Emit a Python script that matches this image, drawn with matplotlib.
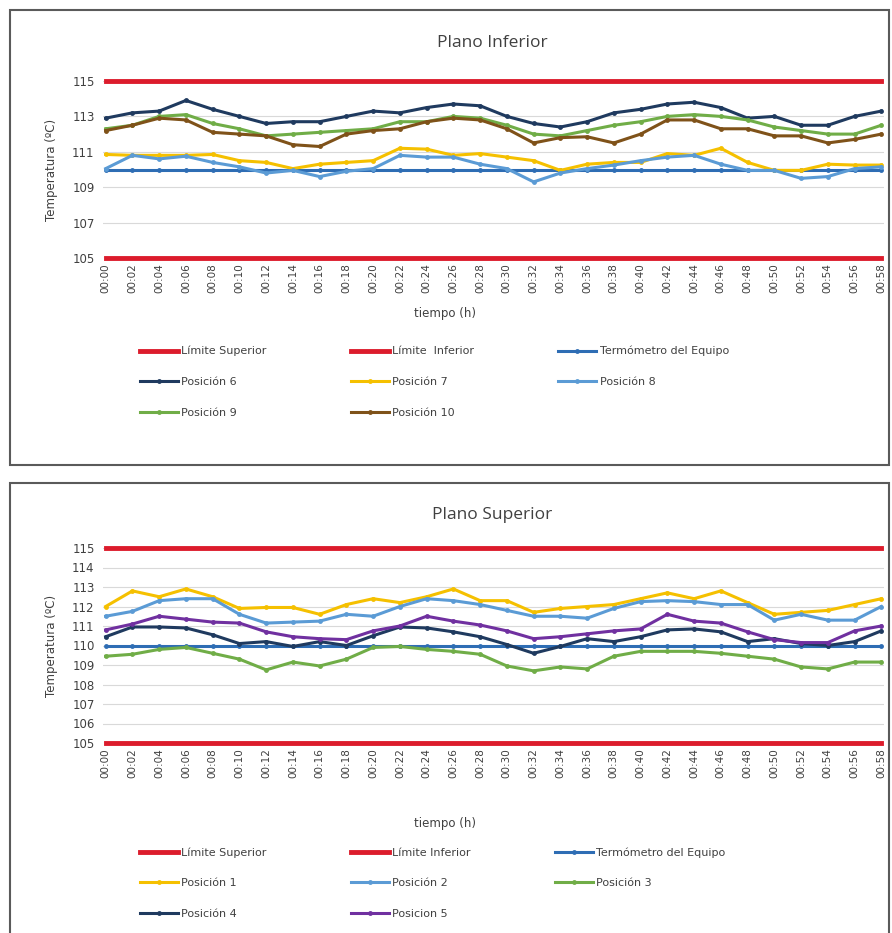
import numpy as np
import matplotlib.pyplot as plt
from matplotlib.patches import Rectangle

# time axis (every 2 minutes)
tiempo = ['00:00', '00:02', '00:04', '00:06', '00:08', '00:10', '00:12', '00:14', '00:16', '00:18',
          '00:20', '00:22', '00:24', '00:26', '00:28', '00:30', '00:32', '00:34', '00:36', '00:38',
          '00:40', '00:42', '00:44', '00:46', '00:48', '00:50', '00:52', '00:54', '00:56', '00:58']

lim_sup = [115, 115, 115, 115, 115, 115, 115, 115, 115, 115, 115, 115, 115, 115, 115,
           115, 115, 115, 115, 115, 115, 115, 115, 115, 115, 115, 115, 115, 115, 115]
lim_inf = [105, 105, 105, 105, 105, 105, 105, 105, 105, 105, 105, 105, 105, 105, 105,
           105, 105, 105, 105, 105, 105, 105, 105, 105, 105, 105, 105, 105, 105, 105]
termometro = [110.0, 110.0, 110.0, 110.0, 110.0, 110.0, 110.0, 110.0, 110.0, 110.0,
              110.0, 110.0, 110.0, 110.0, 110.0, 110.0, 110.0, 110.0, 110.0, 110.0,
              110.0, 110.0, 110.0, 110.0, 110.0, 110.0, 110.0, 110.0, 110.0, 110.0]

# Plano Inferior
pos6 = [112.9, 113.2, 113.3, 113.9, 113.4, 113.0, 112.6, 112.7, 112.7, 113.0,
        113.3, 113.2, 113.5, 113.7, 113.6, 113.0, 112.6, 112.4, 112.7, 113.2,
        113.4, 113.7, 113.8, 113.5, 112.9, 113.0, 112.5, 112.5, 113.0, 113.3]
pos7 = [110.85, 110.8, 110.8, 110.8, 110.85, 110.5, 110.4, 110.05, 110.3, 110.4,
        110.5, 111.2, 111.15, 110.8, 110.9, 110.7, 110.5, 109.95, 110.3, 110.4,
        110.4, 110.9, 110.8, 111.2, 110.4, 109.95, 109.95, 110.3, 110.25, 110.25]
pos8 = [110.05, 110.8, 110.6, 110.75, 110.4, 110.15, 109.8, 109.95, 109.6, 109.9,
        110.05, 110.8, 110.7, 110.7, 110.3, 110.05, 109.3, 109.8, 110.05, 110.25,
        110.5, 110.7, 110.8, 110.3, 109.95, 109.95, 109.5, 109.6, 110.05, 110.15]
pos9 = [112.3, 112.5, 113.0, 113.1, 112.6, 112.3, 111.9, 112.0, 112.1, 112.2,
        112.3, 112.7, 112.7, 113.0, 112.9, 112.5, 112.0, 111.9, 112.2, 112.5,
        112.7, 113.0, 113.1, 113.0, 112.8, 112.4, 112.2, 112.0, 112.0, 112.5]
pos10 = [112.2, 112.5, 112.9, 112.8, 112.1, 112.0, 111.9, 111.4, 111.3, 112.0,
         112.2, 112.3, 112.7, 112.9, 112.8, 112.3, 111.5, 111.8, 111.85, 111.5,
         112.0, 112.8, 112.8, 112.3, 112.3, 111.9, 111.9, 111.5, 111.7, 112.0]

# Plano Superior
pos1 = [112.0, 112.8, 112.5, 112.9, 112.5, 111.9, 111.95, 111.95, 111.6, 112.1,
        112.4, 112.2, 112.5, 112.9, 112.3, 112.3, 111.7, 111.9, 112.0, 112.1,
        112.4, 112.7, 112.4, 112.8, 112.2, 111.6, 111.7, 111.8, 112.1, 112.4]
pos2 = [111.5, 111.75, 112.3, 112.4, 112.4, 111.6, 111.15, 111.2, 111.25, 111.6,
        111.5, 112.0, 112.4, 112.3, 112.1, 111.8, 111.5, 111.5, 111.4, 111.9,
        112.25, 112.3, 112.25, 112.1, 112.1, 111.3, 111.6, 111.3, 111.3, 112.0]
pos3 = [109.45, 109.55, 109.8, 109.9, 109.6, 109.3, 108.75, 109.15, 108.95, 109.3,
        109.9, 109.95, 109.8, 109.7, 109.55, 108.95, 108.7, 108.9, 108.8, 109.45,
        109.7, 109.7, 109.7, 109.6, 109.45, 109.3, 108.9, 108.8, 109.15, 109.15]
pos4 = [110.45, 110.95, 110.95, 110.9, 110.55, 110.1, 110.2, 109.95, 110.2, 110.0,
        110.5, 110.95, 110.9, 110.7, 110.45, 110.05, 109.6, 109.95, 110.35, 110.2,
        110.45, 110.8, 110.85, 110.7, 110.2, 110.35, 110.1, 110.0, 110.2, 110.75]
pos5 = [110.8, 111.1, 111.5, 111.35, 111.2, 111.15, 110.7, 110.45, 110.35, 110.3,
        110.75, 111.0, 111.5, 111.25, 111.05, 110.75, 110.35, 110.45, 110.6, 110.75,
        110.85, 111.6, 111.25, 111.15, 110.7, 110.3, 110.15, 110.15, 110.75, 111.0]

RED = '#DC1C2C'
TERM = '#2E6DB4'
NAVY = '#1F3A5F'
YELLOW = '#F5C000'
LBLUE = '#5B9BD5'
GREEN = '#70AD47'
BROWN = '#7F5219'
PURPLE = '#7030A0'

narrow = ['Liberation Sans Narrow', 'DejaVu Sans']
plt.rcParams['font.family'] = narrow

W, H = 892, 933
fig = plt.figure(figsize=(W / 100, H / 100), dpi=100)


def fx(px):
    return px / W


def fy(py):
    return 1 - py / H


def panel(top_px, bottom_px, title, title_y, series, yticks, xlabel_y, legend_y, box):
    ax = fig.add_axes([fx(103), fy(bottom_px), fx(884) - fx(103), fy(top_px) - fy(bottom_px)])
    x = np.arange(len(tiempo))
    handles = {}
    for name, vals, color, lw, mk in series:
        clip = not name.startswith('Límite')
        h, = ax.plot(x, vals, color=color, lw=lw, marker=mk, ms=3.5,
                     markeredgewidth=0, clip_on=clip, zorder=3 if clip else 4)
        handles[name] = h
    ax.set_xlim(-0.1, len(tiempo) - 0.9)
    ax.set_ylim(105, 115)
    ax.set_yticks(yticks)
    ax.set_xticks(x)
    ax.set_xticklabels(tiempo, rotation=90, fontsize=7.5, color='#404040')
    ax.tick_params(axis='y', labelsize=8.5, colors='#404040', length=0, pad=6)
    ax.tick_params(axis='x', length=0, pad=4)
    ax.grid(axis='y', color='#D9D9D9', lw=0.8)
    ax.set_axisbelow(True)
    for s in ax.spines.values():
        s.set_visible(False)
    ax.set_ylabel('Temperatura (ºC)', fontsize=8.5, color='#404040', labelpad=10)
    fig.text(fx(492), fy(title_y), title, ha='center', va='center', fontsize=12.5,
             color='#404040', family=['Open Sans', 'DejaVu Sans'])
    fig.text(fx(445), fy(xlabel_y), 'tiempo (h)', ha='center', va='center', fontsize=8.5,
             color='#404040')
    # legend: row-major like the original
    order = [series[i][0] for i in box]
    leg = fig.legend([handles[n] for n in order], order, ncol=3, loc='upper left',
                     bbox_to_anchor=(fx(130), fy(legend_y)), frameon=False, fontsize=8,
                     handlelength=3.4, columnspacing=7.6, labelspacing=1.85,
                     handletextpad=0.3)
    for t in leg.get_texts():
        t.set_color('#404040')
    return ax


top_series = [
    ('Límite Superior', lim_sup, RED, 3.5, None),
    ('Límite  Inferior', lim_inf, RED, 3.5, None),
    ('Termómetro del Equipo', termometro, TERM, 2.2, 'o'),
    ('Posición 6', pos6, NAVY, 2.2, 'o'),
    ('Posición 7', pos7, YELLOW, 2.2, 'o'),
    ('Posición 8', pos8, LBLUE, 2.2, 'o'),
    ('Posición 9', pos9, GREEN, 2.2, 'o'),
    ('Posición 10', pos10, BROWN, 2.2, 'o'),
]
bot_series = [
    ('Límite Superior', lim_sup, RED, 3.5, None),
    ('Límite Inferior', lim_inf, RED, 3.5, None),
    ('Termómetro del Equipo', termometro, TERM, 2.2, 'o'),
    ('Posición 1', pos1, YELLOW, 2.2, 'o'),
    ('Posición 2', pos2, LBLUE, 2.2, 'o'),
    ('Posición 3', pos3, GREEN, 2.2, 'o'),
    ('Posición 4', pos4, NAVY, 2.2, 'o'),
    ('Posicion 5', pos5, PURPLE, 2.2, 'o'),
]
# column-major order giving rows: (0,1,2), (3,4,5), (6,7)
leg_order = [0, 3, 6, 1, 4, 7, 2, 5]

panel(81, 258, 'Plano Inferior', 43, top_series, [105, 107, 109, 111, 113, 115], 313, 336, leg_order)
panel(548, 743, 'Plano Superior', 515, bot_series, list(range(105, 116)), 823, 837, leg_order)

# chart borders
for y0, y1 in [(10, 465), (483, 945)]:
    fig.add_artist(Rectangle((fx(10), fy(y1)), fx(889) - fx(10), fy(y0) - fy(y1),
                             transform=fig.transFigure, fill=False, edgecolor='#5A5A5A',
                             lw=1.5))

fig.savefig('out.png', dpi=100)
